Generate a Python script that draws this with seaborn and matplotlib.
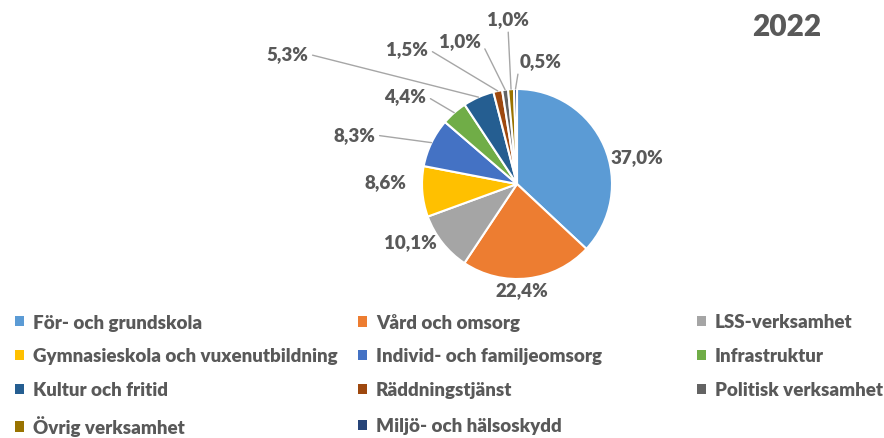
import matplotlib
matplotlib.use("Agg")
import matplotlib.pyplot as plt
import seaborn as sns
from matplotlib.patches import Patch
import numpy as np

categories = ["För- och grundskola", "Vård och omsorg", "LSS-verksamhet",
              "Gymnasieskola och vuxenutbildning", "Individ- och familjeomsorg",
              "Infrastruktur", "Kultur och fritid", "Räddningstjänst",
              "Politisk verksamhet", "Övrig verksamhet", "Miljö- och hälsoskydd"]
values = [37.0, 22.4, 10.1, 8.6, 8.3, 4.4, 5.3, 1.5, 1.0, 1.0, 0.5]
label_texts = ["37,0%", "22,4%", "10,1%", "8,6%", "8,3%", "4,4%", "5,3%",
               "1,5%", "1,0%", "1,0%", "0,5%"]
colors = ["#5B9BD5", "#ED7D31", "#A5A5A5", "#FFC000", "#4472C4", "#70AD47",
          "#255E91", "#9E480E", "#636363", "#997300", "#264478"]
title = "2022"

# layout (pixel coordinates, y measured from top)
W, H = 884, 439
center_px = (517, 185)
radius_px = 95
label_pos_px = [(637, 158), (522, 291), (410, 243), (385, 183), (354, 136),
                (405, 97), (287, 55), (407, 50), (460, 42), (508, 20), (541, 62)]
leader = [None, None, None, None, (1, 0.5), (1, 0.5), (1, 0.5), (1, 0.5),
          (1, 0.5), (0.5, 0), (0, 0.5)]
legend_col_x = [15, 358, 697]
legend_row_y = [323, 357, 391, 427]

sns.set_theme(style="white")
plt.rcParams["font.family"] = ["Lato", "DejaVu Sans"]
txt_color = "#595959"

fig = plt.figure(figsize=(W / 100, H / 100), dpi=100)
ax = fig.add_axes([0, 0, 1, 1])

pal = sns.color_palette(colors)
wedges, _ = ax.pie(values, colors=pal, startangle=90, counterclock=False,
                   center=(center_px[0], H - center_px[1]), radius=radius_px,
                   wedgeprops=dict(edgecolor="white", linewidth=1.5), frame=True)
ax.set_xlim(0, W)
ax.set_ylim(0, H)
ax.axis("off")

cx, cy = center_px[0], H - center_px[1]
for w, lab, pos, rel in zip(wedges, label_texts, label_pos_px, leader):
    ang = np.deg2rad((w.theta1 + w.theta2) / 2)
    edge = (cx + radius_px * np.cos(ang), cy + radius_px * np.sin(ang))
    tx, ty = pos[0], H - pos[1]
    if rel is None:
        ax.text(tx, ty, lab, ha="center", va="center", fontsize=13.5,
                fontweight="heavy", color=txt_color)
    else:
        ax.annotate(lab, xy=edge, xytext=(tx, ty), ha="center", va="center",
                    fontsize=13.5, fontweight="heavy", color=txt_color,
                    arrowprops=dict(arrowstyle="-", color="#A6A6A6", lw=1,
                                    shrinkA=1, shrinkB=0, relpos=rel))

ax.text(787, H - 27, title, ha="center", va="center", fontsize=21.5,
        fontweight="heavy", color=txt_color)

for i, (c, l) in enumerate(zip(colors, categories)):
    col, row = i % 3, i // 3
    h = Patch(facecolor=c, edgecolor="none", label=l)
    leg = fig.legend(handles=[h], loc="center left",
                     bbox_to_anchor=(legend_col_x[col] / W, 1 - legend_row_y[row] / H),
                     frameon=False, fontsize=13.5, handlelength=0.5,
                     handleheight=0.5, handletextpad=0.45,
                     borderaxespad=0, borderpad=0)
    for t in leg.get_texts():
        t.set_color(txt_color)
        t.set_fontweight("heavy")

fig.savefig("out.png", dpi=100)
